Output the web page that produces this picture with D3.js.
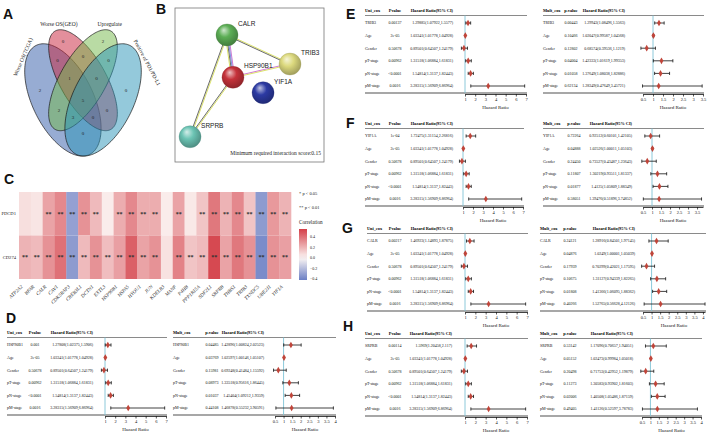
<!DOCTYPE html>
<html><head><meta charset="utf-8">
<script src="https://cdn.jsdelivr.net/npm/d3@7"></script>
<style>body{margin:0;background:#fff}svg{display:block}</style>
</head><body><svg id="c" width="708" height="436"></svg>
<script>
// ---------------- DATA ----------------
// Panel A: Venn
const vennSets = ["Worse OS(TCGA)", "Worse OS(GEO)", "Upregulate", "Positive of PD1/PD-L1"];
const vennRegionKeys = ["2","23","3","12","123","1234","234","34","1","13","134","14","124","24","4"];
const vennCounts     = [ 0,  0,   2,  0,   1,    5,     0,    0,   2,  2,   3,    0,   0,    0,   0 ];
// Panel B: network
const netNodes = ["CALR","TRIB3","HSP90B1","YIF1A","SRPRB"];
const netNodeU = [0.349, 0.772, 0.389, 0.591, 0.101];
const netNodeV = [0.175, 0.364, 0.450, 0.550, 0.836];
const netColors = ["#5cae55","#dcd97e","#c5323a","#2c3aa3","#6cc4b4"];
const netEdges = [["CALR","TRIB3"],["CALR","HSP90B1"],["CALR","SRPRB"],["HSP90B1","TRIB3"],["HSP90B1","SRPRB"]];
const netEdgeColors = [["#cfd83a","#3a3a3a"],["#b94cc2","#4f68d6","#3a3a3a","#cfd83a"],["#cfd83a","#3a3a3a"],["#c04bc4","#cfd83a"],["#cfd83a","#3a3a3a"]];
// Panel C: heatmap
const heatGenes = ["ATP2A2","BFAR","CALR","CAV1","CDK5RAP3","CREB3L1","DCTN1","EXTL3","HSP90B1","HSPA5","HYOU1","JUN","KDELR3","MANF","P4HB","PPP1R15A","SDF2L1","SRPRB","THBS1","TRIB3","TXNDC5","UBE2J1","YIF1A"];
const heatRows = ["PDCD1","CD274"];
const corrPDCD1 = [0.07,0.05,0.25,0.33,-0.30,0.30,0.18,0.03,0.22,0.33,0.22,0.22,0.03,0.25,0.04,0.15,0.38,0.20,0.33,0.15,-0.32,0.28,0.20];
const corrCD274 = [0.20,0.18,0.30,0.40,-0.32,0.18,0.30,0.17,0.26,0.45,0.25,0.30,0.06,0.35,0.15,0.18,0.52,0.25,0.38,0.30,-0.37,0.30,0.26];
const sigPDCD1 = ["","","**","**","**","**","**","","**","**","**","**","","**","","**","**","**","**","**","**","**","**"];
const sigCD274 = ["**","**","**","**","**","**","**","**","**","**","**","**","","**","**","**","**","**","**","**","**","**","**"];
const corrLegendTicks = [0.4,0.2,0.0,-0.2,-0.4];
// Panels D-H: forest plots
const forestGenes = ["HSP90B1","TRIB3","YIF1A","CALR","SRPRB"];
const covariates = ["Age","Gender","pT-stage","pN-stage","pM-stage"];
const uniCovP  = ["2e-05","0.50678","0.00962","<0.0001","0.0016"];
const uniCovHR = [1.03341,0.89501,1.31518,1.54814,3.28315];
const uniCovLo = [1.01778,0.64507,1.06884,1.3137,1.56909];
const uniCovHi = [1.04928,1.24179,1.61831,1.82443,6.86964];
const uniGeneP  = ["0.001","0.00137","1e-04","0.00217","0.00114"];
const uniGeneHR = [1.27808,1.29885,1.72475,1.46923,1.5969];
const uniGeneLo = [1.02375,1.07922,1.31154,1.14893,1.20458];
const uniGeneHi = [1.5906,1.5577,2.26816,1.87875,2.117];
const multP = [
 ["0.04485","0.03769","0.15981","0.08973","0.01037","0.44108"],
 ["0.00443","0.10466","0.12802","0.04004","0.01058","0.62134"],
 ["0.72264","0.04888","0.24450","0.11807","0.01877","0.58051"],
 ["0.24121","0.04876","0.17939","0.10675","0.01808","0.40266"],
 ["0.53142","0.05152","0.20498","0.11273","0.02006","0.49405"]];
const multHR = [
 [1.42896,1.02597,0.69248,1.33518,1.45404,1.46878],
 [1.29943,1.02047,0.68574,1.42333,1.37649,1.28349],
 [0.92512,1.02526,0.73527,1.30219,1.4125,1.39476],
 [1.28916,1.0249,0.70299,1.31127,1.41366,1.52765],
 [1.17096,1.02473,0.71753,1.30583,1.40508,1.41126]];
const multLo = [
 [1.00824,1.00146,0.41484,0.95616,1.09212,0.55232],
 [1.08496,0.99587,0.39536,1.01619,1.08038,0.47649],
 [0.60101,1.00011,0.43487,0.93511,1.05809,0.51896],
 [0.84501,1.00001,0.42021,0.94339,1.06095,0.56628],
 [0.70657,0.99984,0.42952,0.93902,1.05486,0.52597]];
const multHi = [
 [2.02523,1.05107,1.15592,1.86445,1.9359,3.90591],
 [1.5563,1.04568,1.1219,1.99353,1.82886,3.45721],
 [1.42105,1.05103,1.23643,1.81337,1.88349,3.74852],
 [1.97145,1.05039,1.17595,1.82265,1.88362,4.12126],
 [1.94051,1.05018,1.19879,1.81603,1.87159,3.78783]];
const uniTicks = [1,2,3,4,5,6,7];
const multTicksLong = [0.5,1,1.5,2,2.5,3,3.5,4];
const multTicksShort = [0.5,1,1.5,2,2.5,3,3.5];

// ---------------- DRAW ----------------
const SERIF = "'Liberation Serif','Times New Roman',serif";
const SANS = "'Liberation Sans',Arial,sans-serif";
const svg = d3.select("#c");
svg.append("rect").attr("width",708).attr("height",436).attr("fill","#fff");
const defs = svg.append("defs");

// panel letters
const panelLetters = [["A",3,19],["B",156,14],["C",4,184],["D",6,323],["E",346,19],["F",346,128],["G",342,233],["H",343,331]];
svg.selectAll("text.plab").data(panelLetters).enter().append("text")
  .attr("x",d=>d[1]).attr("y",d=>d[2]).text(d=>d[0])
  .attr("font-family",SANS).attr("font-weight","bold").attr("font-size",14).attr("fill","#111");

// ---- A: Venn ----
(function(){
  const shapes = [{cx:.35,cy:.47,a:.35,b:.20,rot:135},{cx:.5,cy:.57,a:.33,b:.15,rot:135},
                  {cx:.5,cy:.57,a:.33,b:.15,rot:45},{cx:.65,cy:.47,a:.35,b:.20,rot:45}];
  const cols = ["#2f5aa8","#c8203a","#74b84a","#2a93b8"];
  const vx = d3.scaleLinear().domain([0,1]).range([16,150]);
  const vy = d3.scaleLinear().domain([0,1]).range([192.5,-4.5]);
  const line = d3.line().curve(d3.curveLinearClosed);
  const g = svg.append("g");
  shapes.forEach((s,i)=>{
    const th = s.rot*Math.PI/180;
    const pts = d3.range(160).map(k=>{const t=k/160*2*Math.PI;
      const u=s.cx+s.a*Math.cos(t)*Math.cos(th)-s.b*Math.sin(t)*Math.sin(th);
      const v=s.cy+s.a*Math.cos(t)*Math.sin(th)+s.b*Math.sin(t)*Math.cos(th);
      return [vx(u),vy(v)];});
    g.append("path").attr("d",line(pts)).attr("fill",cols[i]).attr("fill-opacity",0.5)
     .attr("stroke","#1a1a1a").attr("stroke-width",0.7);
  });
  const pos = {"2":[.35,.77],"23":[.5,.69],"3":[.65,.77],"12":[.31,.67],"123":[.4,.58],"1234":[.5,.47],
    "234":[.6,.58],"34":[.69,.67],"1":[.18,.52],"13":[.32,.42],"134":[.425,.38],"14":[.5,.3],
    "124":[.575,.38],"24":[.68,.42],"4":[.82,.52]};
  vennRegionKeys.forEach((k,i)=>{
    g.append("text").attr("x",vx(pos[k][0])).attr("y",vy(pos[k][1])).attr("dy","0.35em")
     .attr("text-anchor","middle").attr("font-family",SERIF).attr("font-size",5).attr("fill","#222").text(vennCounts[i]);
  });
  const lab = [[0.052,0.688,-67],[0.32,0.855,0],[0.70,0.855,0],[0.98,0.66,62]];
  vennSets.forEach((s,i)=>{
    g.append("text").attr("transform",`translate(${vx(lab[i][0])},${vy(lab[i][1])}) rotate(${lab[i][2]})`)
     .attr("text-anchor","middle").attr("dy","0.35em").attr("font-family",SERIF).attr("font-size",5.5).attr("fill","#222").text(s);
  });
})();

// ---- B: network ----
(function(){
  const nx = d3.scaleLinear().domain([0,1]).range([175,324]);
  const ny = d3.scaleLinear().domain([0,1]).range([8,162]);
  const g = svg.append("g");
  g.append("rect").attr("x",nx(0)).attr("y",ny(0)).attr("width",nx(1)-nx(0)).attr("height",ny(1)-ny(0))
   .attr("fill","#fff").attr("stroke","#777").attr("stroke-width",0.8);
  const P = {}; netNodes.forEach((n,i)=>P[n]=[nx(netNodeU[i]),ny(netNodeV[i])]);
  netEdges.forEach((e,i)=>{
    const [a,b]=[P[e[0]],P[e[1]]]; const dx=b[0]-a[0],dy=b[1]-a[1],L=Math.hypot(dx,dy);
    const px=-dy/L,py=dx/L; const cs=netEdgeColors[i];
    cs.forEach((c,j)=>{const o=(j-(cs.length-1)/2)*1.1;
      g.append("line").attr("x1",a[0]+px*o).attr("y1",a[1]+py*o).attr("x2",b[0]+px*o).attr("y2",b[1]+py*o)
       .attr("stroke",c).attr("stroke-width",0.75);});
  });
  netNodes.forEach((n,i)=>{
    const col=d3.color(netColors[i]);
    const gr=defs.append("radialGradient").attr("id","ng"+i).attr("cx","45%").attr("cy","40%").attr("r","60%").attr("fx","35%").attr("fy","28%");
    gr.append("stop").attr("offset","0%").attr("stop-color",d3.interpolateRgb(col,"#fff")(0.7));
    gr.append("stop").attr("offset","45%").attr("stop-color",col.formatHex());
    gr.append("stop").attr("offset","100%").attr("stop-color",col.darker(0.9).formatHex());
    g.append("circle").attr("cx",P[n][0]).attr("cy",P[n][1]).attr("r",11).attr("fill",`url(#ng${i})`)
     .attr("stroke",col.darker(1).formatHex()).attr("stroke-width",0.3);
    g.append("text").attr("x",P[n][0]+11).attr("y",P[n][1]-9).attr("font-family",SANS).attr("font-size",6.5)
     .attr("fill","#222").text(n);
  });
  g.append("text").attr("x",nx(1)-3).attr("y",ny(1)-7).attr("text-anchor","end").attr("font-family",SERIF)
   .attr("font-size",5.5).attr("fill","#222").text("Minimum required interaction score:0.15");
})();

// ---- C: heatmap ----
(function(){
  const hx = d3.scaleBand().domain(heatGenes).range([19,291]);
  const hy = d3.scaleBand().domain(heatRows).range([192,279]);
  const hcol = d3.scaleLinear().domain([-0.42,0,0.55]).range(["#6a7ec4","#fcf6f4","#d43f48"]);
  const g = svg.append("g");
  const vals = [corrPDCD1,corrCD274], sigs=[sigPDCD1,sigCD274];
  heatRows.forEach((r,ri)=>{
    heatGenes.forEach((gn,ci)=>{
      g.append("rect").attr("x",hx(gn)).attr("y",hy(r)).attr("width",hx.bandwidth()+0.3).attr("height",hy.bandwidth())
       .attr("fill",hcol(vals[ri][ci]));
      if(sigs[ri][ci]) g.append("text").attr("x",hx(gn)+hx.bandwidth()/2).attr("y",hy(r)+hy.bandwidth()/2+2)
       .attr("text-anchor","middle").attr("font-family",SERIF).attr("font-size",6).attr("font-weight","bold")
       .attr("fill","#333").text(sigs[ri][ci]);
    });
    g.append("text").attr("x",16).attr("y",hy(r)+hy.bandwidth()/2).attr("dy","0.35em").attr("text-anchor","end")
     .attr("font-family",SERIF).attr("font-size",4.6).attr("fill","#222").text(r);
  });
  heatGenes.forEach(gn=>{
    const cx=hx(gn)+hx.bandwidth()/2-2;
    g.append("text").attr("transform",`translate(${cx},287) rotate(-45)`).attr("text-anchor","end")
     .attr("font-family",SERIF).attr("font-style","italic").attr("font-size",5).attr("fill","#222").text(gn);
  });
  // legend
  g.append("text").attr("x",299).attr("y",195).attr("font-family",SERIF).attr("font-size",4.5).attr("fill","#222").text("* p < 0.05");
  g.append("text").attr("x",299).attr("y",209).attr("font-family",SERIF).attr("font-size",4.5).attr("fill","#222").text("** p < 0.01");
  g.append("text").attr("x",299).attr("y",224).attr("font-family",SERIF).attr("font-size",5.2).attr("fill","#222").text("Correlation");
  const ly = d3.scaleLinear().domain([-0.42,0.55]).range([280,229]);
  const lg = defs.append("linearGradient").attr("id","lgc").attr("x1",0).attr("y1",1).attr("x2",0).attr("y2",0);
  d3.range(0,1.0001,0.1).forEach(t=>{const v=-0.42+t*0.97; lg.append("stop").attr("offset",t).attr("stop-color",hcol(v));});
  g.append("rect").attr("x",299).attr("y",ly(0.55)).attr("width",8).attr("height",ly(-0.42)-ly(0.55)).attr("fill","url(#lgc)");
  corrLegendTicks.forEach(t=>{
    g.append("text").attr("x",310).attr("y",ly(t)).attr("dy","0.35em").attr("font-family",SERIF).attr("font-size",4)
     .attr("fill","#222").text(t===0?"0.0":(t<0?"\u2212"+Math.abs(t):t));
  });
})();

// ---- D-H: forest plots ----
const forestLayout = [
 {T:332, uni:{L:7,p:35,hr:93,range:[105,166]},   mult:{L:173,p:212,hr:264,range:[275,335],dom:[0.5,4],ticks:multTicksLong}},
 {T:10,  uni:{L:365,p:395,hr:453,range:[465,526]}, mult:{L:543,p:571,hr:625,range:[643,703],dom:[0.5,3.5],ticks:multTicksShort}},
 {T:123, uni:{L:365,p:395,hr:453,range:[463,523]}, mult:{L:543,p:574,hr:632,range:[643,703],dom:[0.5,3.83],ticks:multTicksShort}},
 {T:228, uni:{L:367,p:395,hr:453,range:[465,527]}, mult:{L:540,p:570,hr:635,range:[643,705],dom:[0.5,4.12],ticks:multTicksLong}},
 {T:333, uni:{L:365,p:395,hr:452,range:[465,527]}, mult:{L:540,p:570,hr:633,range:[642,701],dom:[0.5,4],ticks:multTicksLong}}
];
function drawForest(T, c, dom, ticks, heads, rows){
  const g = svg.append("g");
  const x = d3.scaleLinear().domain(dom).range(c.range);
  const ry = d3.scalePoint().domain(rows.map(r=>r.name)).range([T+13,T+76]);
  const right = c.range[1]+1;
  const HF = 4.3;
  g.append("text").attr("x",c.L).attr("y",T).attr("dy","0.35em").attr("font-family",SERIF).attr("font-weight","bold").attr("font-size",HF).text(heads[0]);
  g.append("text").attr("x",c.p).attr("y",T).attr("dy","0.35em").attr("text-anchor","middle").attr("font-family",SERIF).attr("font-weight","bold").attr("font-size",HF).text(heads[1]);
  g.append("text").attr("x",c.hr).attr("y",T).attr("dy","0.35em").attr("text-anchor","end").attr("font-family",SERIF).attr("font-weight","bold").attr("font-size",HF).text(heads[2]);
  g.append("line").attr("x1",c.L).attr("x2",right).attr("y1",T+5.5).attr("y2",T+5.5).attr("stroke","#8a8a8a").attr("stroke-width",1.1);
  g.append("line").attr("x1",c.L).attr("x2",right).attr("y1",T+83).attr("y2",T+83).attr("stroke","#8a8a8a").attr("stroke-width",1.5);
  g.append("line").attr("x1",x(1)).attr("x2",x(1)).attr("y1",T+5.5).attr("y2",T+83).attr("stroke","#7fc3d6").attr("stroke-width",0.9);
  rows.forEach(r=>{
    const y=ry(r.name);
    g.append("text").attr("x",c.L).attr("y",y).attr("dy","0.35em").attr("font-family",SERIF).attr("font-size",4).attr("fill","#111").text(r.name);
    g.append("text").attr("x",c.p).attr("y",y).attr("dy","0.35em").attr("text-anchor","middle").attr("font-family",SERIF).attr("font-size",4).attr("fill","#111").text(r.p);
    g.append("text").attr("x",c.hr).attr("y",y).attr("dy","0.35em").attr("text-anchor","end").attr("font-family",SERIF).attr("font-size",4).attr("fill","#111").text(`${r.hr}(${r.lo},${r.hi})`);
    g.append("line").attr("x1",x(r.lo)).attr("x2",x(r.hi)).attr("y1",y).attr("y2",y).attr("stroke","#111").attr("stroke-width",0.8);
    [r.lo,r.hi].forEach(v=>g.append("line").attr("x1",x(v)).attr("x2",x(v)).attr("y1",y-1.6).attr("y2",y+1.6).attr("stroke","#111").attr("stroke-width",0.8));
    g.append("path").attr("d",d3.symbol(d3.symbolDiamond,13)()).attr("transform",`translate(${x(r.hr)},${y})`).attr("fill","#c0453a");
  });
  const ax = g.append("g").attr("transform",`translate(0,${T+84})`)
    .call(d3.axisBottom(x).tickValues(ticks).tickFormat(d=>String(d)).tickSize(2.5).tickSizeOuter(0).tickPadding(1.2));
  ax.select(".domain").attr("stroke","#111").attr("stroke-width",0.8);
  ax.selectAll(".tick line").attr("stroke","#111").attr("stroke-width",0.7);
  ax.selectAll(".tick text").attr("font-family",SERIF).attr("font-size",4.5).attr("fill","#111");
  g.append("text").attr("x",(c.range[0]+c.range[1])/2).attr("y",T+99).attr("text-anchor","middle")
   .attr("font-family",SERIF).attr("font-size",5).attr("fill","#111").text("Hazard Ratio");
}
forestGenes.forEach((gene,k)=>{
  const lay = forestLayout[k];
  const uniRows = [{name:gene,p:uniGeneP[k],hr:uniGeneHR[k],lo:uniGeneLo[k],hi:uniGeneHi[k]}]
    .concat(covariates.map((cv,i)=>({name:cv,p:uniCovP[i],hr:uniCovHR[i],lo:uniCovLo[i],hi:uniCovHi[i]})));
  const names=[gene].concat(covariates);
  const multRows = names.map((n,i)=>({name:n,p:multP[k][i],hr:multHR[k][i],lo:multLo[k][i],hi:multHi[k][i]}));
  drawForest(lay.T, lay.uni, [1,7], uniTicks, ["Uni_cox","Pvalue","Hazard Ratio(95% CI)"], uniRows);
  drawForest(lay.T, lay.mult, lay.mult.dom, lay.mult.ticks, ["Mult_cox","p.value","Hazard Ratio(95% CI)"], multRows);
});
</script></body></html>
